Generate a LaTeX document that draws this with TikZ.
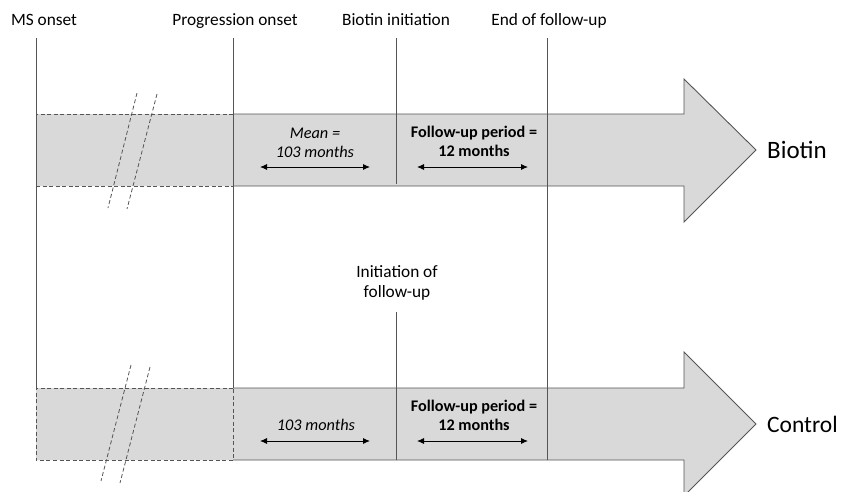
\documentclass[tikz,border=0pt]{standalone}
\usepackage{fontspec}
\setmainfont{Carlito}
\usetikzlibrary{arrows.meta}
\definecolor{linegray}{HTML}{555555}
\definecolor{fillgray}{HTML}{D9D9D9}
\begin{document}
\begin{tikzpicture}[x=1pt,y=-1pt,
  vline/.style={draw=linegray,line width=0.9pt},
  dashline/.style={draw=linegray,line width=0.8pt,dash pattern=on 4pt off 2.5pt},
  bigarrow/.style={fill=fillgray,draw=none},
  lbl/.style={anchor=base,inner sep=0pt,font=\fontsize{17.3}{20}\selectfont},
  grp/.style={anchor=base west,inner sep=0pt,font=\fontsize{25}{30}\selectfont},
  itl/.style={anchor=base,inner sep=0pt,font=\fontsize{16.3}{19}\selectfont\itshape},
  bld/.style={anchor=base,inner sep=0pt,font=\fontsize{16.2}{19}\selectfont\bfseries},
  dbl/.style={{Latex[length=7pt,width=6pt]}-{Latex[length=7pt,width=6pt]},line width=0.9pt,black}]
\useasboundingbox (0,0) rectangle (847,491);
\begin{scope}
\clip (0,0) rectangle (847,491);
% top arrow
\fill[bigarrow] (36,114) -- (684,114) -- (684,79) -- (756,150) -- (684,222) -- (684,186) -- (36,186) -- cycle;
\draw[vline] (233,114) -- (684,114) -- (684,79) -- (756,150) -- (684,222) -- (684,186) -- (233,186);
\draw[dashline] (233,114) -- (36,114) (36,186) -- (233,186);
% bottom arrow
\fill[bigarrow] (36,388) -- (684,388) -- (684,352) -- (756,424) -- (684,496) -- (684,460) -- (36,460) -- cycle;
\draw[vline] (233,388) -- (684,388) -- (684,352) -- (756,424) -- (684,496) -- (684,460) -- (233,460);
\draw[dashline] (233,388) -- (36,388) -- (36,460) -- (233,460) -- cycle;
\end{scope}
% coordinates
\coordinate (msT) at (36,38);
\coordinate (msB) at (36,388);
\coordinate (poT) at (233,38);
\coordinate (poB) at (233,388);
\coordinate (biT) at (396,38);
\coordinate (biB) at (396,184);
\coordinate (efT) at (547,38);
\coordinate (efB) at (547,460);
\coordinate (ifT) at (396,312);
\coordinate (ifB) at (396,460);
\draw[vline] (msT) -- (msB);
\draw[vline] (poT) -- (poB);
\draw[vline] (biT) -- (biB);
\draw[vline] (efT) -- (efB);
\draw[vline] (ifT) -- (ifB);
% break marks
\coordinate (s1a) at (137,93); \coordinate (s1b) at (108,208);
\coordinate (s2a) at (157,94); \coordinate (s2b) at (127,209);
\coordinate (s3a) at (131,365); \coordinate (s3b) at (101,481);
\coordinate (s4a) at (150,367); \coordinate (s4b) at (120,483);
\draw[dashline] (s1a) -- (s1b);
\draw[dashline] (s2a) -- (s2b);
\draw[dashline] (s3a) -- (s3b);
\draw[dashline] (s4a) -- (s4b);
% top labels
\node[lbl] (ms) at (44,25) {MS onset};
\node[lbl] (po) at (235,25) {Progression onset};
\node[lbl] (bi) at (396,25) {Biotin initiation};
\node[lbl] (ef) at (549,25) {End of follow-up};
\node[lbl] (if1) at (397,277) {Initiation of};
\node[lbl] (if2) at (397,297) {follow-up};
% group labels
\node[grp] (gb) at (767,158) {Biotin};
\node[grp,font=\fontsize{23.5}{28}\selectfont] (gc) at (767,432) {Control};
% inner texts top
\node[itl] (m1) at (315,138) {Mean =};
\node[itl] (m2) at (315,157) {103 months};
\node[bld] (f1) at (474,137) {Follow-up period =};
\node[bld] (f2) at (474,156) {12 months};
\coordinate (a1l) at (260,167); \coordinate (a1r) at (370,167);
\coordinate (a2l) at (417,167); \coordinate (a2r) at (528,167);
\draw[dbl] (a1l) -- (a1r);
\draw[dbl] (a2l) -- (a2r);
% inner texts bottom
\node[itl] (m3) at (316,430) {103 months};
\node[bld] (f3) at (474,411) {Follow-up period =};
\node[bld] (f4) at (474,430) {12 months};
\coordinate (a3l) at (260,441); \coordinate (a3r) at (370,441);
\coordinate (a4l) at (417,441); \coordinate (a4r) at (528,441);
\draw[dbl] (a3l) -- (a3r);
\draw[dbl] (a4l) -- (a4r);
\end{tikzpicture}
\end{document}
